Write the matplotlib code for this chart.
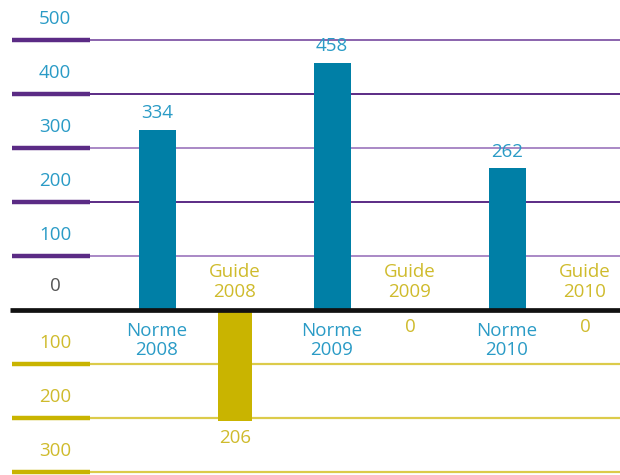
import matplotlib
matplotlib.use("Agg")
import matplotlib.pyplot as plt

years = ["2008", "2009", "2010"]
norme = [334, 458, 262]
guide = [206, 0, 0]
ticks_up = [100, 200, 300, 400, 500]
ticks_down = [100, 200, 300]

BLUE_BAR = "#007fa6"
BLUE_TXT = "#2a9bc6"
YEL_BAR = "#c9b400"
YEL_TXT = "#cfbb2c"
YEL_LINE = "#dccb4a"
PURPLE_DARK = "#5b2b85"
PURPLE_LIGHT = "#a988c6"
thin_up_colors = {100: PURPLE_LIGHT, 200: PURPLE_DARK, 300: PURPLE_LIGHT,
                  400: PURPLE_DARK, 500: "#8a63ad"}

plt.rcParams["font.family"] = ["Open Sans", "DejaVu Sans"]
FS = 13.5

fig = plt.figure(figsize=(6.2, 4.75), dpi=100)
ax = fig.add_axes([0, 0, 1, 1])
ax.set_xlim(0, 620)
ax.set_ylim(-305.6, 574)
ax.axis("off")

# grid lines above zero
for t in ticks_up:
    ax.plot([90, 620], [t, t], color=thin_up_colors[t], lw=1.4, solid_capstyle="butt", zorder=1)
    ax.plot([12, 90], [t, t], color=PURPLE_DARK, lw=3.2, solid_capstyle="butt", zorder=1)
    ax.annotate(str(t), (55, t), xytext=(0, 15), textcoords="offset points",
                ha="center", va="center", color=BLUE_TXT, fontsize=FS)
# grid lines below zero
for t in ticks_down:
    ax.plot([90, 620], [-t, -t], color=YEL_LINE, lw=1.6, solid_capstyle="butt", zorder=1)
    ax.plot([12, 90], [-t, -t], color=YEL_BAR, lw=3.2, solid_capstyle="butt", zorder=1)
    ax.annotate(str(t), (55, -t), xytext=(0, 15), textcoords="offset points",
                ha="center", va="center", color=YEL_TXT, fontsize=FS)
ax.annotate("0", (55, 0), xytext=(0, 17), textcoords="offset points",
            ha="center", va="center", color="#555555", fontsize=FS)

xn = [157 + 175 * i for i in range(len(years))]
xg = [235 + 175 * i for i in range(len(years))]

ax.bar(xn, norme, width=37, color=BLUE_BAR, zorder=2)
ax.bar(xg, [-g for g in guide], width=34, color=YEL_BAR, zorder=2)

ax.plot([10, 620], [0, 0], color="#111111", lw=3.4, solid_capstyle="butt", zorder=3)

for x, v, y in zip(xn, norme, years):
    ax.annotate(str(v), (x, v), xytext=(0, 12), textcoords="offset points",
                ha="center", va="center", color=BLUE_TXT, fontsize=FS)
    ax.annotate("Norme\n" + y, (x, 0), xytext=(0, -22), textcoords="offset points",
                ha="center", va="center", color=BLUE_TXT, fontsize=FS, linespacing=1.1)
for x, v, y in zip(xg, guide, years):
    ax.annotate(str(v), (x, -v), xytext=(0, -12), textcoords="offset points",
                ha="center", va="center", color=YEL_TXT, fontsize=FS)
    ax.annotate("Guide\n" + y, (x, 0), xytext=(0, 20), textcoords="offset points",
                ha="center", va="center", color=YEL_TXT, fontsize=FS, linespacing=1.1)

fig.savefig("out.png", dpi=100)
